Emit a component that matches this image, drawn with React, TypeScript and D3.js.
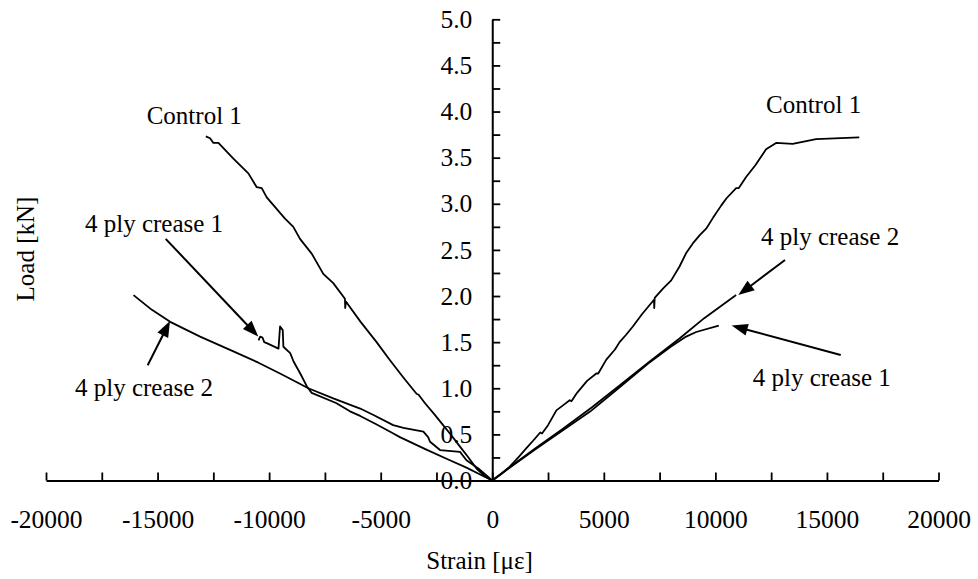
import React, { useRef, useEffect } from 'react'
import * as d3 from 'd3'

type Pt = [number, number] // [strain in με, load in kN]

// left side (negative strain)
const control1Left: Pt[] = [
    [-12837, 3.73], [-12645, 3.71], [-12497, 3.66], [-12273, 3.66], [-11602, 3.49],
    [-10930, 3.33], [-10555, 3.18], [-10331, 3.17], [-10107, 3.07], [-9288, 2.84],
    [-8916, 2.75], [-8616, 2.62], [-8093, 2.46], [-7573, 2.24], [-7126, 2.14],
    [-6602, 1.97], [-6590, 1.87], [-6560, 1.94], [-5900, 1.72], [-5183, 1.5],
    [-4600, 1.31], [-3993, 1.12], [-3394, 0.94], [-3300, 0.93], [-3021, 0.84],
    [-2600, 0.72], [-2202, 0.6], [-1800, 0.48], [-1455, 0.37], [-1100, 0.26],
    [-707, 0.13], [-300, 0.04], [0, 0],
]
const crease1Left: Pt[] = [
    [-10475, 1.52], [-10400, 1.56], [-10297, 1.55], [-10220, 1.5], [-10107, 1.49],
    [-9580, 1.43], [-9510, 1.67], [-9390, 1.63], [-9360, 1.45], [-9055, 1.38],
    [-8905, 1.29], [-8605, 1.16], [-8307, 1.02], [-8093, 0.95], [-7000, 0.84],
    [-6378, 0.75], [-5920, 0.7], [-5200, 0.61], [-4432, 0.51], [-4140, 0.47],
    [-3000, 0.34], [-2000, 0.23], [-1155, 0.14], [-500, 0.06], [0, 0],
]
const crease2Left: Pt[] = [
    [-16078, 2.01], [-15254, 1.85], [-14435, 1.72], [-13093, 1.56], [-11602, 1.4],
    [-10500, 1.28], [-9512, 1.16], [-8800, 1.07], [-8245, 1.0], [-7126, 0.89],
    [-5920, 0.78], [-5323, 0.71], [-4440, 0.6], [-3980, 0.57], [-3085, 0.53],
    [-2874, 0.47], [-2787, 0.42], [-2339, 0.33], [-1444, 0.31], [-1155, 0.22],
    [-622, 0.13], [0, 0],
]

// right side (positive strain)
const control1Right: Pt[] = [
    [0, 0], [400, 0.07], [783, 0.15], [1200, 0.26], [1531, 0.35], [1900, 0.45],
    [2150, 0.52], [2230, 0.51], [2500, 0.6], [2874, 0.76], [3200, 0.82], [3469, 0.87],
    [3550, 0.86], [3800, 0.95], [4250, 1.08], [4664, 1.16], [4750, 1.16], [5112, 1.31],
    [5500, 1.42], [5707, 1.5], [6000, 1.58], [6302, 1.67], [6700, 1.8], [7250, 1.96],
    [7260, 1.87], [7280, 1.98], [7650, 2.08], [8021, 2.17], [8393, 2.32], [8700, 2.47],
    [8989, 2.57], [9300, 2.66], [9588, 2.73], [9900, 2.85], [10259, 2.98], [10500, 3.06],
    [10930, 3.17], [11050, 3.17], [11378, 3.29], [11800, 3.42], [12273, 3.59],
    [12721, 3.66], [13464, 3.65], [14511, 3.7], [16449, 3.72],
]
const crease1Right: Pt[] = [
    [0, 0], [900, 0.16], [2000, 0.35], [3200, 0.55], [4400, 0.75], [5600, 0.99],
    [7000, 1.27], [8000, 1.45], [8690, 1.56], [9140, 1.61], [10153, 1.68],
]
const crease2Right: Pt[] = [
    [0, 0], [931, 0.17], [2000, 0.36], [3170, 0.56], [4500, 0.8], [5707, 1.03],
    [7000, 1.28], [8393, 1.54], [9500, 1.76], [10930, 2.01],
]

const seriesList = [control1Left, crease1Left, crease2Left, control1Right, crease1Right, crease2Right]

const xTicks = d3.range(-20000, 20001, 2500)
const yTicks = d3.range(0, 5.001, 0.25)

// annotation text, placed in data units (text start / baseline)
const labelTexts = ['Control 1', '4 ply crease 1', '4 ply crease 2', 'Control 1', '4 ply crease 2', '4 ply crease 1']
const labelStrain = [-15487, -18253, -18701, 12269, 12045, 11673]
const labelLoad = [3.86, 2.69, 0.92, 3.98, 2.55, 1.02]

// arrows: [fromStrain, fromLoad, toStrain, toLoad]
const arrowList = [
    [-14636, 2.62, -10486, 1.56],
    [-15443, 1.25, -14443, 1.73],
    [13121, 2.39, 11028, 2.01],
    [15618, 1.36, 10732, 1.68],
]

const FONT = '"Liberation Serif", "Times New Roman", Times, serif'

const App = () => {
    const svgRef = useRef<SVGSVGElement>(null)

    useEffect(() => {
        const svg = d3.select(svgRef.current)
        svg.selectAll('*').remove()

        const xScale = d3.scaleLinear().domain([-20000, 20000]).range([46, 938.5])
        const yScale = d3.scaleLinear().domain([0, 5]).range([480.5, 19.3])

        // x axis, ticks pointing up
        const xAxis = svg.append('g')
            .attr('transform', `translate(0, ${yScale(0)})`)
            .call(
                d3.axisBottom(xScale)
                    .tickValues(xTicks)
                    .tickSizeInner(-8)
                    .tickSizeOuter(0)
                    .tickPadding(29.5)
                    .tickFormat((d) => (Number(d) % 5000 === 0 ? String(d) : ''))
            )
        xAxis.attr('font-family', FONT).attr('font-size', 25.5)
        xAxis.select('.domain').attr('stroke-width', 2)
        xAxis.selectAll('.tick line').attr('stroke-width', 1.8)

        // y axis at strain 0, ticks pointing right
        const yAxis = svg.append('g')
            .attr('transform', `translate(${xScale(0)}, 0)`)
            .call(
                d3.axisLeft(yScale)
                    .tickValues(yTicks)
                    .tickSizeInner(-8)
                    .tickSizeOuter(0)
                    .tickPadding(20)
                    .tickFormat((d) => (Math.round(Number(d) * 4) % 2 === 0 ? d3.format('.1f')(Number(d)) : ''))
            )
        yAxis.attr('font-family', FONT).attr('font-size', 25.5)
        yAxis.select('.domain').attr('stroke-width', 2)
        yAxis.selectAll('.tick line').attr('stroke-width', 1.8)

        // curves
        const line = d3.line<Pt>()
            .x((d) => xScale(d[0]))
            .y((d) => yScale(d[1]))

        svg.append('g')
            .selectAll('path')
            .data(seriesList)
            .enter()
            .append('path')
            .attr('fill', 'none')
            .attr('stroke', '#000')
            .attr('stroke-width', 1.8)
            .attr('stroke-linejoin', 'round')
            .attr('d', line)

        // arrows
        const head = 16
        const half = 6
        arrowList.forEach(([fs, fl, ts, tl]) => {
            const x1 = xScale(fs), y1 = yScale(fl)
            const x2 = xScale(ts), y2 = yScale(tl)
            const len = Math.hypot(x2 - x1, y2 - y1)
            const ux = (x2 - x1) / len, uy = (y2 - y1) / len
            const bx = x2 - ux * head, by = y2 - uy * head
            svg.append('line')
                .attr('x1', x1).attr('y1', y1)
                .attr('x2', bx + ux * 2).attr('y2', by + uy * 2)
                .attr('stroke', '#000')
                .attr('stroke-width', 2)
            svg.append('polygon')
                .attr('points', [
                    [x2, y2],
                    [bx - uy * half, by + ux * half],
                    [bx + uy * half, by - ux * half],
                ].map((p) => p.join(',')).join(' '))
                .attr('fill', '#000')
        })

        // annotation labels
        svg.append('g')
            .selectAll('text')
            .data(labelTexts)
            .enter()
            .append('text')
            .attr('x', (_, i) => xScale(labelStrain[i]))
            .attr('y', (_, i) => yScale(labelLoad[i]))
            .attr('font-family', FONT)
            .attr('font-size', 25)
            .text((d) => d)

        // axis titles
        svg.append('text')
            .attr('x', 479.5)
            .attr('y', 569)
            .attr('text-anchor', 'middle')
            .attr('font-family', FONT)
            .attr('font-size', 25)
            .text('Strain [με]')

        svg.append('text')
            .attr('transform', 'translate(34, 249) rotate(-90)')
            .attr('text-anchor', 'middle')
            .attr('font-family', FONT)
            .attr('font-size', 25)
            .text('Load [kN]')
    }, [])

    return (
        <svg
            ref={svgRef}
            width={978}
            height={579}
            style={{ position: 'absolute', left: 0, top: 0, background: '#fff' }}
        />
    )
}

export default App
